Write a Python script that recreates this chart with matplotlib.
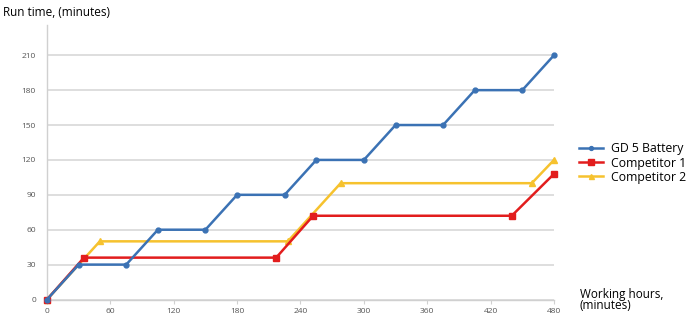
import matplotlib
matplotlib.use("Agg")
import matplotlib.pyplot as plt

# Data
gd5_x = [0, 30, 75, 105, 150, 180, 225, 255, 300, 330, 375, 405, 450, 480]
gd5_y = [0, 30, 30, 60, 60, 90, 90, 120, 120, 150, 150, 180, 180, 210]
c1_x = [0, 35, 217, 252, 440, 480]
c1_y = [0, 36, 36, 72, 72, 108]
c2_x = [0, 50, 228, 278, 459, 480]
c2_y = [0, 50, 50, 100, 100, 120]
x_ticks = [0, 60, 120, 180, 240, 300, 360, 420, 480]
y_ticks = [0, 30, 60, 90, 120, 150, 180, 210]

plt.rcParams['font.family'] = ['Open Sans', 'DejaVu Sans']

W, H = 694, 317
fig = plt.figure(figsize=(W / 100, H / 100), dpi=100)
left, right = 47, 554
top, bottom = 25, 299.5
ax = fig.add_axes([left / W, 1 - bottom / H, (right - left) / W, (bottom - top) / H])
ax.set_xlim(0, 480)
ax.set_ylim(0, 236)

ax.set_yticks(y_ticks)
ax.set_xticks(x_ticks)
ax.grid(axis='y', color='#d8d8d8', linewidth=1.2)
ax.set_axisbelow(True)
for s in ['top', 'right']:
    ax.spines[s].set_visible(False)
for s in ['left', 'bottom']:
    ax.spines[s].set_color('#d0d0d0')
    ax.spines[s].set_linewidth(1.0)
ax.tick_params(axis='y', length=0, labelsize=6, labelcolor='#555555', pad=8)
ax.tick_params(axis='x', length=3, color='#d0d0d0', labelsize=6, labelcolor='#555555', pad=3)

blue = '#3b72b4'
red = '#e21d1d'
yellow = '#f6c22e'
ax.plot(gd5_x, gd5_y, color=blue, lw=1.8, marker='o', ms=3.5, label='GD 5 Battery', clip_on=False, zorder=5)
ax.plot(c1_x, c1_y, color=red, lw=1.8, marker='s', ms=5, label='Competitor 1', clip_on=False, zorder=4)
ax.plot(c2_x, c2_y, color=yellow, lw=1.8, marker='^', ms=4.5, label='Competitor 2', clip_on=False, zorder=3)

fig.text(3 / W, 1 - 12 / H, 'Run time, (minutes)', fontsize=8.5, va='center', ha='left')
fig.text(580 / W, 1 - 300 / H, 'Working hours,\n(minutes)', fontsize=8.5, va='center', ha='left',
         linespacing=0.85)

leg = fig.legend(loc='center left', bbox_to_anchor=(574 / W, 1 - 163 / H), frameon=False,
                 fontsize=8.8, handlelength=2.0, handletextpad=0.6, labelspacing=0.1,
                 borderaxespad=0, markerscale=0.8)

fig.savefig('out.png', dpi=100)
